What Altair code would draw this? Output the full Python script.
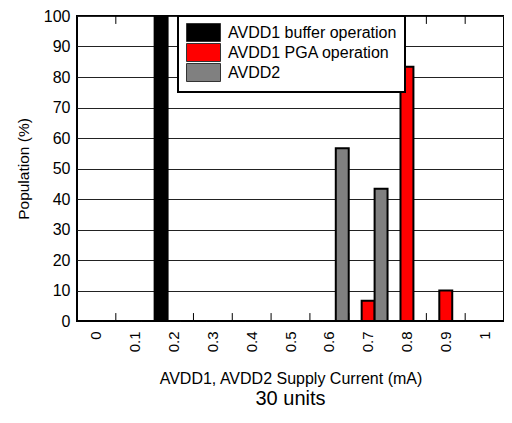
import altair as alt
import pandas as pd

categories = ["0", "0.1", "0.2", "0.3", "0.4", "0.5", "0.6", "0.7", "0.8", "0.9", "1"]
series_names = ["AVDD1 buffer operation", "AVDD1 PGA operation", "AVDD2"]
buffer_op = [0, 0, 100, 0, 0, 0, 0, 0, 0, 0, 0]
pga_op = [0, 0, 0, 0, 0, 0, 0, 6.67, 83.33, 10, 0]
avdd2 = [0, 0, 0, 0, 0, 0, 56.67, 43.33, 0, 0, 0]
colors = ["#000000", "#ff0000", "#808080"]
y_ticks = [0, 10, 20, 30, 40, 50, 60, 70, 80, 90, 100]

rows = []
for name, vals in zip(series_names, [buffer_op, pga_op, avdd2]):
    for c, v in zip(categories, vals):
        rows.append({"current": c, "series": name, "population": v})
df = pd.DataFrame(rows)
tick_df = pd.DataFrame({"current": categories[:-1]})

FONT = "Liberation Sans"
xscale = alt.Scale(domain=categories, paddingInner=0, paddingOuter=0)
yscale = alt.Scale(domain=[0, 100], nice=False)

x_axis = alt.Axis(labelAngle=270, labelAlign="right", labelBaseline="middle",
                  labelFontSize=15, labelPadding=10, tickSize=0, domain=False,
                  grid=False, title="AVDD1, AVDD2 Supply Current (mA)",
                  titleFontSize=16, titleFontWeight="normal", titlePadding=19)
y_axis = alt.Axis(values=y_ticks, grid=True, gridColor="#222222", gridWidth=1,
                  tickSize=0, domain=False, labelFontSize=16, labelPadding=7,
                  title="Population (%)", titleFontSize=15.5, titleFontWeight="normal",
                  titlePadding=12)

bars = alt.Chart(df).mark_bar(stroke="black", strokeWidth=2).encode(
    x=alt.X("current:N", scale=xscale, sort=categories, axis=x_axis),
    xOffset=alt.XOffset("series:N", sort=series_names,
                        scale=alt.Scale(domain=series_names, paddingInner=0, paddingOuter=0)),
    y=alt.Y("population:Q", scale=yscale, axis=y_axis),
    color=alt.Color("series:N", scale=alt.Scale(domain=series_names, range=colors),
                    legend=alt.Legend(orient="none", legendX=101, legendY=0, title=None,
                                      padding=8, fillColor="white", strokeColor="black",
                                      symbolType="M-2.125,-1.125H2.125V1.125H-2.125Z",
                                      symbolSize=256, symbolOffset=9,
                                      symbolStrokeColor="#333333", symbolStrokeWidth=1,
                                      labelFontSize=16, labelOffset=16, labelLimit=400,
                                      rowPadding=-7)),
)

ticks_bottom = alt.Chart(tick_df).mark_rule(color="black", strokeWidth=1).encode(
    x=alt.X("current:N", scale=xscale, sort=categories, bandPosition=1, axis=x_axis),
    y=alt.YDatum(0, scale=yscale, axis=y_axis),
    y2=alt.Y2Datum(2.6),
)
ticks_top = alt.Chart(tick_df).mark_rule(color="black", strokeWidth=1).encode(
    x=alt.X("current:N", scale=xscale, sort=categories, bandPosition=1, axis=x_axis),
    y=alt.YDatum(100, scale=yscale, axis=y_axis),
    y2=alt.Y2Datum(97.4),
)

chart = alt.layer(bars, ticks_bottom, ticks_top).properties(
    width=427, height=305,
    padding={"left": 69, "top": 8, "right": 0, "bottom": 87},
    autosize=alt.AutoSizeParams(type="none"),
    title=alt.TitleParams("30 units", orient="bottom", fontSize=20, fontWeight="normal",
                          font=FONT, color="black", anchor="middle", offset=2),
).configure(font=FONT).configure_view(stroke="black", strokeWidth=2).configure_axis(
    labelColor="black", titleColor="black", labelFont=FONT, titleFont=FONT
).configure_legend(labelFont=FONT, labelColor="black", strokeWidth=2)

chart.save("out.html", embed_options={"renderer": "svg", "actions": False})
